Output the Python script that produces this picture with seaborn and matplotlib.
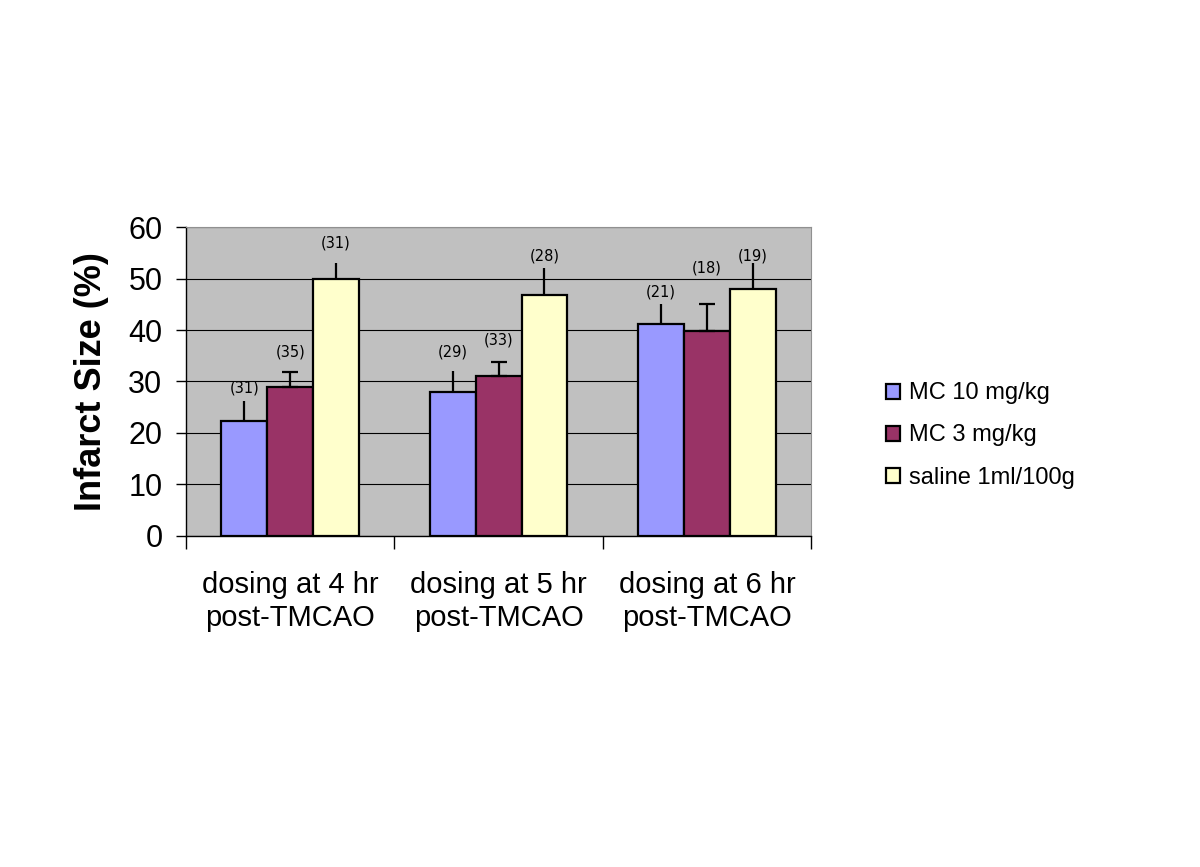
import numpy as np
import pandas as pd
import matplotlib
matplotlib.use('Agg')
import matplotlib.pyplot as plt
import seaborn as sns

groups = ['dosing at 4 hr\npost-TMCAO', 'dosing at 5 hr\npost-TMCAO', 'dosing at 6 hr\npost-TMCAO']
treatments = ['MC 10 mg/kg', 'MC 3 mg/kg', 'saline 1ml/100g']
mc10 = [22.4, 28.0, 41.1]
mc3 = [28.9, 31.1, 39.9]
saline = [49.9, 46.9, 48.0]
mc10_err = [3.8, 4.0, 3.9]
mc3_err = [3.0, 2.7, 5.1]
saline_err = [3.2, 5.1, 5.0]
mc10_n = [31, 29, 21]
mc3_n = [35, 33, 18]
saline_n = [31, 28, 19]

colors = ['#9999FF', '#993366', '#FFFFCC']

df = pd.DataFrame({
    'group': groups * 3,
    'treatment': [t for t in treatments for _ in groups],
    'value': mc10 + mc3 + saline,
})
errs = [mc10_err, mc3_err, saline_err]
ns = [mc10_n, mc3_n, saline_n]
# gap between error-bar top and the centre of the (n) label, per treatment, as in the original
label_gap = [[2.5, 3.7, 2.4], [3.8, 4.3, 7.0], [3.8, 2.4, 1.4]]

sns.set_style('white')
plt.rcParams['font.family'] = ['Liberation Sans', 'DejaVu Sans']
plt.rcParams['text.color'] = 'black'
plt.rcParams['axes.labelcolor'] = 'black'
plt.rcParams['xtick.color'] = 'black'
plt.rcParams['ytick.color'] = 'black'

fig = plt.figure(figsize=(12, 8.67), dpi=100)
ax = fig.add_axes([0.155, 0.382, 0.521, 0.356])
ax.set_facecolor('#C0C0C0')

sns.barplot(data=df, x='group', y='value', hue='treatment', hue_order=treatments,
            palette=colors, saturation=1, width=0.66, edgecolor='black', linewidth=1.6,
            errorbar=None, ax=ax, zorder=3)

bar_conts = list(ax.containers)
for i, cont in enumerate(bar_conts):
    for j, bar in enumerate(cont):
        xc = bar.get_x() + bar.get_width() / 2
        h = bar.get_height()
        cap = 6 if i == 1 else 0
        ax.errorbar(xc, h, yerr=[[0], [errs[i][j]]], fmt='none', ecolor='black',
                    elinewidth=1.6, capsize=cap, capthick=1.6, zorder=4)
        ax.text(xc, h + errs[i][j] + label_gap[i][j], '(%d)' % ns[i][j], ha='center',
                va='center', fontsize=10.5, family='DejaVu Sans', zorder=5)

ax.set_ylim(0, 60)
ax.set_xlim(-0.5, 2.5)
ax.set_yticks(range(0, 61, 10))
ax.yaxis.grid(True, color='black', linewidth=0.8, zorder=0)
ax.set_axisbelow(True)
ax.set_xticks([-0.5, 0.5, 1.5, 2.5], minor=False)
ax.set_xticklabels([])
ax.set_xticks([0, 1, 2], minor=True)
ax.set_xticklabels(groups, minor=True, fontsize=21, linespacing=1.25)
ax.tick_params(axis='x', which='minor', length=0, pad=25)
ax.tick_params(axis='x', which='major', direction='out', length=9, width=1, bottom=True)
ax.tick_params(axis='y', direction='out', length=7, width=1, left=True, labelsize=22, pad=10)
ax.set_xlabel('')
ax.set_ylabel('Infarct Size (%)', fontsize=26, fontweight='bold', labelpad=14)

for s in ['top', 'right']:
    ax.spines[s].set_color('#909090')
for s in ['left', 'bottom']:
    ax.spines[s].set_color('black')
    ax.spines[s].set_linewidth(1)

ax.legend(loc='center left', bbox_to_anchor=(1.085, 0.325), frameon=False, fontsize=17,
          handlelength=0.6, handleheight=0.6, handletextpad=0.4, labelspacing=0.85)

fig.savefig('out.png', dpi=100, facecolor='white')
